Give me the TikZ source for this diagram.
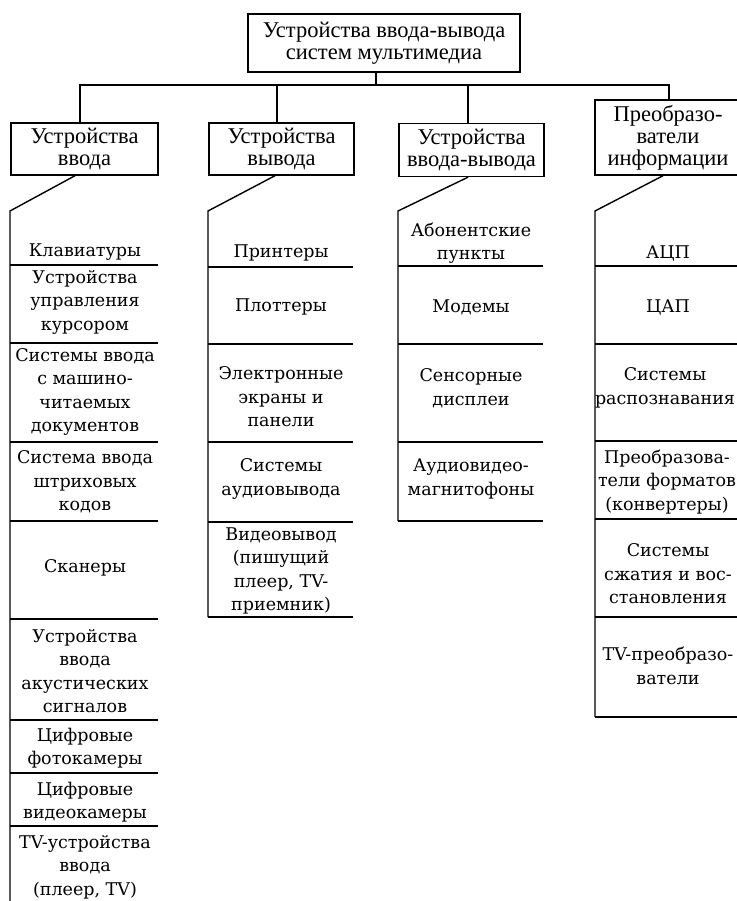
\documentclass[tikz,border=0pt]{standalone}
\usepackage{fontspec}
\newfontfamily\hdrfont{Liberation Serif}
\newfontfamily\bodyfont{DejaVu Serif}
\usetikzlibrary{calc}
\begin{document}
\begin{tikzpicture}[x=1pt,y=-1pt,
  ln/.style={line width=1.4pt},
  hbox/.style={draw,line width=1.4pt,inner sep=0pt,align=center,
    font=\hdrfont\fontsize{22.5}{22}\selectfont},
  item/.style={inner sep=0pt,align=center,
    font=\bodyfont\fontsize{17.5}{23.5}\selectfont}]
\useasboundingbox (0,0) rectangle (736,901);
% header boxes
\node[hbox,minimum width=272pt,minimum height=58pt] (top) at (384,43)
  {Устройства ввода-вывода\\систем мультимедиа};
\node[hbox,minimum width=147pt,minimum height=52pt] (b1) at (84.5,149)
  {Устройства\\ввода};
\node[hbox,minimum width=145pt,minimum height=52pt] (b2) at (281.5,149)
  {Устройства\\вывода};
\node[hbox,minimum width=145pt,minimum height=53pt] (b3) at (471.5,150)
  {Устройства\\ввода-вывода};
\node[hbox,minimum width=146pt,minimum height=75pt] (b4) at (668,137.5)
  {Преобразо-\\ватели\\информации};
% bus
\coordinate (t0) at (376,85);
\coordinate (d1) at (80,85);
\coordinate (d2) at (277,85);
\coordinate (d3) at (468,85);
\coordinate (d4) at (669,85);
\draw[ln] (t0 |- top.south) -- (t0);
\draw[ln] (d1 |- b1.north) -- (d1) -- (d4) -- (d4 |- b4.north);
\draw[ln] (d2) -- (d2 |- b2.north);
\draw[ln] (d3) -- (d3 |- b3.north);
% column corners
\coordinate (k1) at (10,211);
\coordinate (k2) at (208,211);
\coordinate (k3) at (398,211);
\coordinate (k4) at (595,211);
\draw[ln] ([xshift=-9.5pt]b1.south) -- (k1) -- (10,905);
\draw[ln] ([xshift=-6.5pt]b2.south) -- (k2) -- (208,617);
\draw[ln] ([xshift=-3.5pt]b3.south) -- (k3) -- (398,521);
\draw[ln] ([xshift=-5pt]b4.south) -- (k4) -- (595,717);
% column 1 separators
\foreach \y in {265,343,442,521,619,720,773,826}
  \draw[ln] (10,\y) -- (158,\y);
% column 2
\foreach \y in {267,344,442,522,617}
  \draw[ln] (208,\y) -- (353,\y);
% column 3
\foreach \y in {266,344,442,521}
  \draw[ln] (398,\y) -- (543,\y);
% column 4
\foreach \y in {266,344,441,519,617,717}
  \draw[ln] (595,\y) -- (740,\y);
% column 1 items
\node[item] (c1a) at (85,252) {Клавиатуры};
\node[item] (c1b) at (85,302) {Устройства\\управления\\курсором};
\node[item] (c1c) at (85,392) {Системы ввода\\с машино-\\читаемых\\документов};
\node[item] (c1d) at (85,482) {Система ввода\\штриховых\\кодов};
\node[item] (c1e) at (85,568) {Сканеры};
\node[item] (c1f) at (85,671) {Устройства\\ввода\\акустических\\сигналов};
\node[item] (c1g) at (85,748) {Цифровые\\фотокамеры};
\node[item] (c1h) at (85,802) {Цифровые\\видеокамеры};
\node[item] (c1i) at (85,867) {TV-устройства\\ввода\\(плеер, TV)};
% column 2 items
\node[item] (c2a) at (281,253) {Принтеры};
\node[item] (c2b) at (281,307) {Плоттеры};
\node[item] (c2c) at (281,397) {Электронные\\экраны и\\панели};
\node[item] (c2d) at (281,479) {Системы\\аудиовывода};
\node[item] (c2e) at (281,571) {Видеовывод\\(пишущий\\плеер, TV-\\приемник)};
% column 3 items
\node[item] (c3a) at (471,243) {Абонентские\\пункты};
\node[item] (c3b) at (471,307) {Модемы};
\node[item] (c3c) at (471,388) {Сенсорные\\дисплеи};
\node[item] (c3d) at (471,479) {Аудиовидео-\\магнитофоны};
% column 4 items
\node[item] (c4a) at (668,253) {АЦП};
\node[item] (c4b) at (668,307) {ЦАП};
\node[item] (c4c) at (665,388) {Системы\\распознавания};
\node[item] (c4d) at (667,482) {Преобразова-\\тели форматов\\(конвертеры)};
\node[item] (c4e) at (668,574) {Системы\\сжатия и вос-\\становления};
\node[item] (c4f) at (668,666) {TV-преобразо-\\ватели};
\end{tikzpicture}
\end{document}
